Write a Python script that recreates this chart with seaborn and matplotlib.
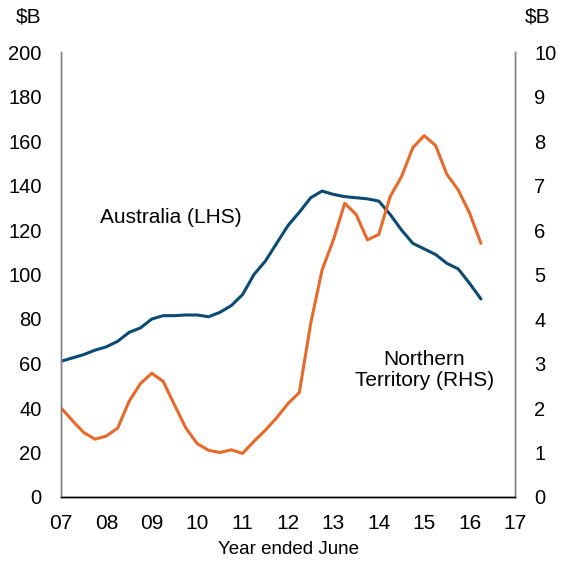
import numpy as np
import pandas as pd
import matplotlib
matplotlib.use("Agg")
import matplotlib.pyplot as plt
import seaborn as sns

# Quarterly, starting June 2007 (x = 7.0)
quarters = [7 + 0.25 * i for i in range(38)]
australia = [61, 62.5, 64, 66, 67.5, 70, 74, 76, 80, 81.5,
             81.5, 81.8, 81.8, 81, 83, 86, 91, 100, 106, 114,
             122, 128, 134.5, 137.5, 136, 135, 134.5, 134, 133, 127,
             120, 114, 111.5, 109, 105, 102.5, 96, 89]
nt = [2.0, 1.72, 1.45, 1.3, 1.37, 1.55, 2.15, 2.55, 2.78, 2.6,
      2.07, 1.55, 1.2, 1.05, 1.0, 1.06, 0.98, 1.25, 1.5, 1.78,
      2.1, 2.35, 3.9, 5.1, 5.78, 6.6, 6.35, 5.78, 5.9, 6.75,
      7.2, 7.85, 8.12, 7.9, 7.25, 6.9, 6.38, 5.7]
xticks = list(range(7, 18))
xticklabels = [f"{v:02d}" for v in xticks]
left_ticks = list(range(0, 201, 20))
right_ticks = list(range(0, 11))

df = pd.DataFrame({"year": quarters, "aus": australia, "nt": nt})

sns.set_style("white")
plt.rcParams["font.family"] = ["Liberation Sans", "DejaVu Sans"]
plt.rcParams["text.color"] = "black"
plt.rcParams["axes.labelcolor"] = "black"

fig = plt.figure(figsize=(5.66, 5.61), dpi=100)
ax = fig.add_axes([61/566, 64/561, (515-61)/566, (497-52)/561])
ax2 = ax.twinx()

sns.lineplot(data=df, x="year", y="aus", ax=ax, color="#0B4A74", linewidth=2.2)
sns.lineplot(data=df, x="year", y="nt", ax=ax2, color="#E8692A", linewidth=2.2)

ax.set_xlim(7, 17)
ax.set_ylim(0, 200)
ax2.set_ylim(0, 10)
ax.set_xticks(xticks)
ax.set_xticklabels(xticklabels)
ax.set_yticks(left_ticks)
ax2.set_yticks(right_ticks)
ax.set_ylabel("")
ax2.set_ylabel("")
ax.set_xlabel("Year ended June", fontsize=13.5, labelpad=6, color="black")

ax.tick_params(axis="y", length=0, labelsize=14.5, pad=14, colors="black")
ax.tick_params(axis="x", length=0, labelsize=15, pad=12, colors="black")
ax2.tick_params(axis="y", length=0, labelsize=14.5, pad=14, colors="black")

for a in (ax, ax2):
    a.spines["top"].set_visible(False)
    a.spines["left"].set_color("#808080")
    a.spines["right"].set_color("#808080")
    a.spines["bottom"].set_color("black")
    a.spines["left"].set_linewidth(1.0)
    a.spines["right"].set_linewidth(1.0)
    a.spines["bottom"].set_linewidth(1.0)
    a.grid(False)

fig.text(16/566, 1 - 17/561, "$B", fontsize=15, va="center", ha="left", color="black")
fig.text(525/566, 1 - 17/561, "$B", fontsize=15, va="center", ha="left", color="black")

ax.text(7.86, 125.8, "Australia (LHS)", fontsize=15, ha="left", va="center", color="black")
ax2.text(15.0, 2.85, "Northern\nTerritory (RHS)", fontsize=15, ha="center",
         va="center", linespacing=1.15, color="black")

fig.savefig("out.png", dpi=100)
